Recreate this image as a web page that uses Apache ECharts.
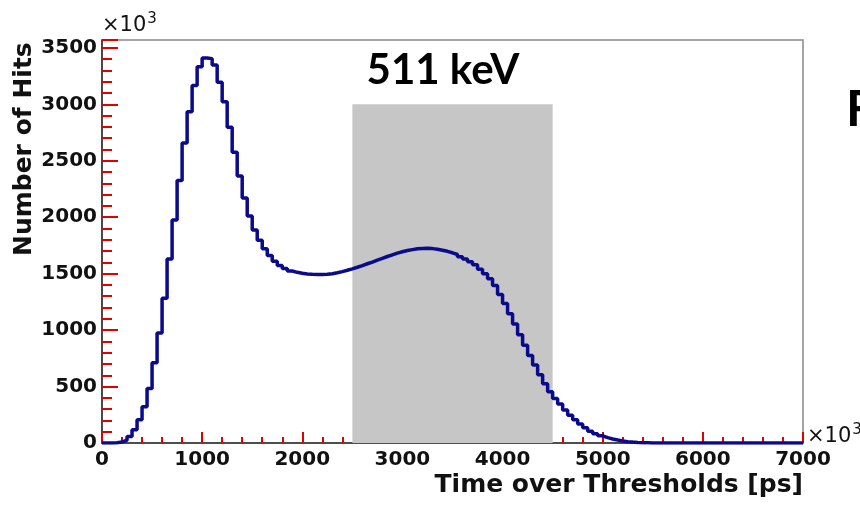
<!DOCTYPE html>
<html>
<head>
<meta charset="utf-8">
<script src="https://cdn.jsdelivr.net/npm/echarts@6/dist/echarts.min.js"></script>
<style>
  html, body { margin: 0; padding: 0; background: #fff; }
  #chart { width: 860px; height: 508px; }
</style>
</head>
<body>
<div id="chart"></div>
<script>
// histogram: 50 ps bins from 0 to 7000 (x10^3), counts in units of 10^3
var binWidth = 50;
var counts = [
    0, 1, 3, 8, 25, 58, 118, 205, 322, 482, 710, 975, 1282, 1630, 1975, 2325, 2658, 2935, 3167, 3333,
    3410, 3405, 3348, 3195, 3023, 2796, 2575, 2365, 2170, 2010, 1887, 1795, 1720, 1660, 1610, 1572, 1545, 1524, 1512, 1503,
    1498, 1494, 1492, 1492, 1495, 1500, 1508, 1518, 1530, 1543, 1557, 1572, 1588, 1603, 1620, 1636, 1652, 1667, 1682, 1694,
    1705, 1713, 1720, 1724, 1725, 1722, 1716, 1708, 1698, 1685, 1670, 1650, 1630, 1605, 1578, 1540, 1500, 1455, 1395, 1315,
    1235, 1145, 1055, 960, 865, 775, 690, 605, 525, 455, 395, 345, 292, 245, 205, 168, 135, 105, 82, 64,
    48, 36, 26, 18, 12, 8, 5, 3, 2, 1, 1, 1, 0, 0, 0, 0, 0, 0, 0, 0,
    0, 0, 0, 0, 0, 0, 0, 0, 0, 0, 0, 0, 0, 0, 0, 0, 0, 0, 0, 0
];
// shaded 511 keV window
var windowX = [2500, 4500];
var windowTop = 3000;

var stepData = [];
for (var i = 0; i < counts.length; i++) {
    stepData.push([i * binWidth, counts[i]]);
}
stepData.push([counts.length * binWidth, counts[counts.length - 1]]);

var chart = echarts.init(document.getElementById('chart'), null, { renderer: 'canvas' });

var labelFont = {
    fontFamily: 'DejaVu Sans',
    fontWeight: 'bold',
    fontSize: 20,
    color: '#111',
    formatter: function (v) { return String(v); }
};

var option = {
    animation: false,
    grid: {
        left: 102,
        top: 40,
        width: 701,
        height: 403
    },
    xAxis: {
        type: 'value',
        min: 0,
        max: 7000,
        interval: 1000,
        position: 'bottom',
        axisLine: { show: true, onZero: false, lineStyle: { color: '#333', width: 1.6 } },
        axisTick: { show: true, inside: true, length: 11, lineStyle: { color: '#e00000', width: 2 } },
        minorTick: { show: true, splitNumber: 5, length: 6, lineStyle: { color: '#e00000', width: 2 } },
        splitLine: { show: false },
        axisLabel: Object.assign({ margin: 7 }, labelFont)
    },
    yAxis: {
        type: 'value',
        min: 0,
        max: 3570,
        interval: 500,
        position: 'left',
        axisLine: { show: true, onZero: false, lineStyle: { color: '#333', width: 1.6 } },
        axisTick: { show: true, inside: true, length: 16, lineStyle: { color: '#e00000', width: 2 } },
        minorTick: { show: true, splitNumber: 5, length: 10, lineStyle: { color: '#e00000', width: 2 } },
        splitLine: { show: false },
        axisLabel: Object.assign({ margin: 5, showMaxLabel: false }, labelFont)
    },
    series: [
        {
            type: 'line',
            name: 'window',
            data: [],
            z: 1,
            markArea: {
                silent: true,
                itemStyle: { color: '#c6c6c6', opacity: 1 },
                data: [[
                    { xAxis: windowX[0], yAxis: 0 },
                    { xAxis: windowX[1], yAxis: windowTop }
                ]]
            }
        },
        {
            type: 'line',
            name: 'ToT',
            step: 'end',
            data: stepData,
            showSymbol: false,
            z: 3,
            lineStyle: { color: '#0a0a8c', width: 3.5 }
        }
    ],
    graphic: [
        {
            type: 'rect',
            z: -10,
            shape: { x: 102, y: 40, width: 701, height: 403 },
            style: { fill: 'none', stroke: '#888', lineWidth: 1.5 }
        },
        {
            type: 'text',
            x: 24,
            y: 256,
            rotation: Math.PI / 2,
            style: {
                text: 'Number of Hits',
                font: 'bold 25px "DejaVu Sans"',
                fill: '#111',
                textAlign: 'left',
                textVerticalAlign: 'middle'
            }
        },
        {
            type: 'text',
            x: 803,
            y: 485,
            style: {
                text: 'Time over Thresholds [ps]',
                font: 'bold 25px "DejaVu Sans"',
                fill: '#111',
                textAlign: 'right',
                textVerticalAlign: 'middle'
            }
        },
        {
            type: 'text',
            x: 102,
            y: 26,
            style: {
                text: '×10{s|3}',
                font: '21px "DejaVu Sans"',
                fill: '#111',
                textAlign: 'left',
                textVerticalAlign: 'middle',
                rich: { s: { fontSize: 15, fontFamily: 'DejaVu Sans', verticalAlign: 'top', padding: [0, 0, 14, 1] } }
            }
        },
        {
            type: 'text',
            x: 807,
            y: 437,
            style: {
                text: '×10{s|3}',
                font: '21px "DejaVu Sans"',
                fill: '#111',
                textAlign: 'left',
                textVerticalAlign: 'middle',
                rich: { s: { fontSize: 15, fontFamily: 'DejaVu Sans', verticalAlign: 'top', padding: [0, 0, 14, 1] } }
            }
        },
        {
            type: 'text',
            x: 443,
            y: 70,
            style: {
                text: '511 keV',
                font: 'bold 42px Lato',
                fill: '#000',
                textAlign: 'center',
                textVerticalAlign: 'middle'
            }
        },
        {
            type: 'text',
            x: 846,
            y: 110,
            style: {
                text: 'F',
                font: 'bold 50px Lato',
                fill: '#000',
                textAlign: 'left',
                textVerticalAlign: 'middle'
            }
        }
    ]
};

chart.setOption(option);
</script>
</body>
</html>
